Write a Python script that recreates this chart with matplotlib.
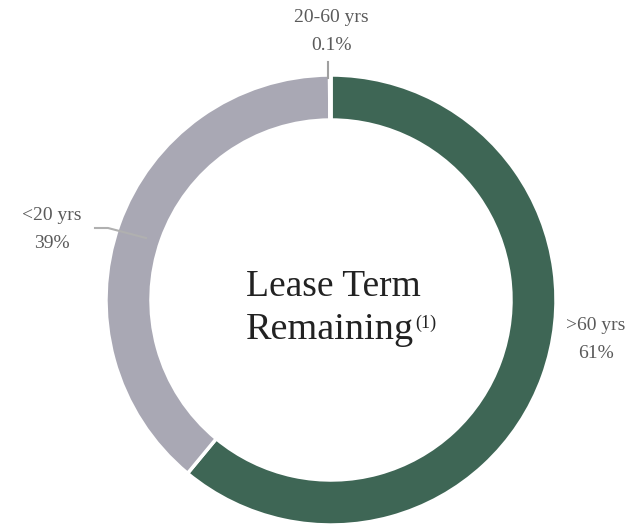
import matplotlib.pyplot as plt

# data
labels = [">60 yrs", "<20 yrs", "20-60 yrs"]
shares = [61.0, 38.9, 0.1]
pct_text = ["61%", "39%", "0.1%"]
colors = ["#3e6655", "#a9a8b4", "#86c4a4"]

W, H = 634, 526
fig = plt.figure(figsize=(W / 100, H / 100), dpi=100)
ax = fig.add_axes([0, 0, 1, 1])

cx, cy, r = 331, H - 300, 225
ax.pie(shares, colors=colors, startangle=90, counterclock=False,
       center=(cx, cy), radius=r, frame=True,
       wedgeprops=dict(width=45, edgecolor="white", linewidth=2.5))
ax.set_xlim(0, W)
ax.set_ylim(0, H)
ax.set_aspect("equal")
ax.axis("off")

serif = ["Liberation Serif", "DejaVu Serif"]
lab_col = "#5a5a5a"
lab_size = 14

# label positions (pixel coordinates, y from top)
lab_xy = [(596, 326), (52, 215), (331, 18)]
for name, pct, (x, y) in zip(labels, pct_text, lab_xy):
    ax.text(x, H - y, name, ha="center", va="center", fontsize=lab_size,
            color=lab_col, family=serif)
    ax.text(x, H - y - 28, pct, ha="center", va="center", fontsize=lab_size,
            color=lab_col, family=serif)

# leader lines
ax.plot([95, 108, 146], [H - 228, H - 228, H - 238], color="#b0b0b0", lw=1.5)
ax.plot([328, 328], [H - 62, H - 78], color="#a0a0a0", lw=1.5)

# center title
ax.text(333, H - 287, "Lease Term", ha="center", va="center", fontsize=27,
        color="#222222", family=serif)
t = ax.text(330, H - 330, "Remaining", ha="center", va="center", fontsize=27.5,
            color="#222222", family=serif)
fig.canvas.draw()
bb = t.get_window_extent()
ax.text(bb.x1 + 1, H - 323, "(1)", ha="left", va="center", fontsize=13,
        color="#222222", family=serif)

fig.savefig("out.png", dpi=100, facecolor="white")
